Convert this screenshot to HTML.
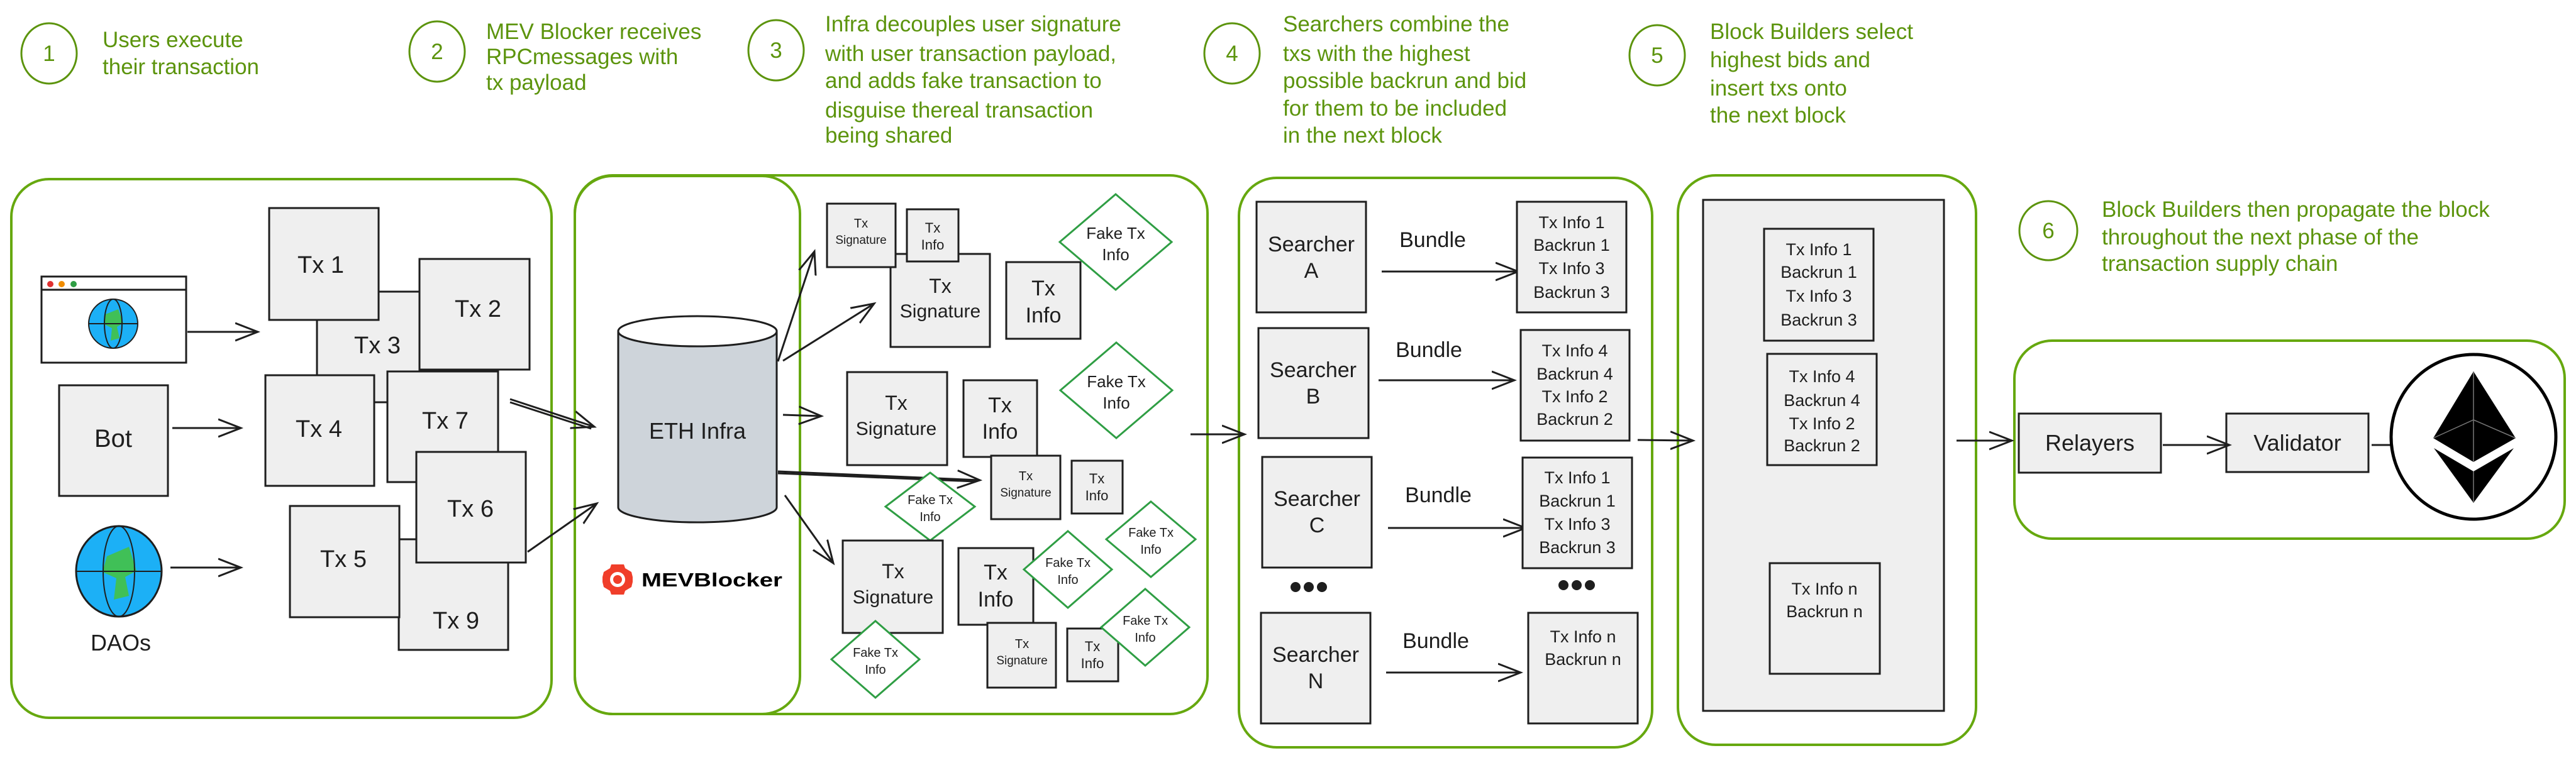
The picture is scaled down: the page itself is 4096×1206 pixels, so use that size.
<!DOCTYPE html>
<html><head><meta charset="utf-8"><style>
html,body{margin:0;padding:0;background:#fff;width:4096px;height:1206px;overflow:hidden}
svg{display:block}
text{font-family:"Liberation Sans",sans-serif}
.g{fill:#5c940d;font-size:35px}
.b{fill:#efefef;stroke:#1e1e1e;stroke-width:3}
.t{fill:#1e1e1e;text-anchor:middle}
.p{fill:none;stroke:#66a80f;stroke-width:4}
.a{fill:none;stroke:#1e1e1e;stroke-width:3}
.f{fill:#fff;stroke:#2f9e44;stroke-width:3}
.c{fill:none;stroke:#5c940d;stroke-width:3}
</style></head><body>
<svg width="4096" height="1206" viewBox="0 0 4096 1206" xmlns="http://www.w3.org/2000/svg">
<defs>
<marker id="m" markerUnits="userSpaceOnUse" markerWidth="40" markerHeight="40" refX="36" refY="20" orient="auto" viewBox="0 0 40 40">
<path d="M0,6 L36,20 L0,34" fill="none" stroke="#1e1e1e" stroke-width="3"/>
</marker>
</defs>

<!-- step headers -->
<ellipse class="c" cx="78" cy="85" rx="44" ry="48"/>
<text x="78" y="97" class="g" text-anchor="middle">1</text>
<text class="g" x="163" y="75">Users execute</text>
<text class="g" x="163" y="118">their transaction</text>

<ellipse class="c" cx="695" cy="82" rx="44" ry="48"/>
<text x="695" y="94" class="g" text-anchor="middle">2</text>
<text class="g" x="773" y="62">MEV Blocker receives</text>
<text class="g" x="773" y="102">RPCmessages with</text>
<text class="g" x="773" y="143">tx payload</text>

<ellipse class="c" cx="1234" cy="80" rx="44" ry="48"/>
<text x="1234" y="92" class="g" text-anchor="middle">3</text>
<text class="g" x="1312" y="50">Infra decouples user signature</text>
<text class="g" x="1312" y="97">with user transaction payload,</text>
<text class="g" x="1312" y="140">and adds fake transaction to</text>
<text class="g" x="1312" y="187">disguise thereal transaction</text>
<text class="g" x="1312" y="227">being shared</text>

<ellipse class="c" cx="1959" cy="85" rx="44" ry="48"/>
<text x="1959" y="97" class="g" text-anchor="middle">4</text>
<text class="g" x="2040" y="50">Searchers combine the</text>
<text class="g" x="2040" y="97">txs with the highest</text>
<text class="g" x="2040" y="140">possible backrun and bid</text>
<text class="g" x="2040" y="184">for them to be included</text>
<text class="g" x="2040" y="227">in the next block</text>

<ellipse class="c" cx="2635" cy="88" rx="44" ry="48"/>
<text x="2635" y="100" class="g" text-anchor="middle">5</text>
<text class="g" x="2719" y="62">Block Builders select</text>
<text class="g" x="2719" y="107">highest bids and</text>
<text class="g" x="2719" y="152">insert txs onto</text>
<text class="g" x="2719" y="195">the next block</text>

<ellipse class="c" cx="3257" cy="367" rx="46" ry="47"/>
<text x="3257" y="379" class="g" text-anchor="middle">6</text>
<text class="g" x="3342" y="345">Block Builders then propagate the block</text>
<text class="g" x="3342" y="389">throughout the next phase of the</text>
<text class="g" x="3342" y="431">transaction supply chain</text>

<!-- panels -->
<rect class="p" x="18" y="285" width="859" height="857" rx="60"/>
<rect class="p" x="914" y="279" width="1006" height="857" rx="60"/>
<rect class="p" x="914" y="280" width="358" height="856" rx="60"/>
<rect class="p" x="1970" y="283" width="657" height="906" rx="60"/>
<rect class="p" x="2668" y="279" width="474" height="906" rx="60"/>
<rect class="p" x="3203" y="542" width="875" height="315" rx="60"/>

<!-- panel 1 -->
<rect x="66" y="440" width="230" height="137" fill="#fff" stroke="#1e1e1e" stroke-width="3"/>
<line x1="66" y1="461" x2="296" y2="461" stroke="#1e1e1e" stroke-width="3"/>
<circle cx="80" cy="452" r="5" fill="#e03131"/><circle cx="98" cy="452" r="5" fill="#f08c00"/><circle cx="117" cy="452" r="5" fill="#2f9e44"/>
<ellipse cx="180" cy="515" rx="39" ry="39" fill="#1cb0f6" stroke="#1e1e1e" stroke-width="2"/>
<path d="M168,500 l20,-8 l8,22 l-10,6 l4,18 l-14,4 l2,-20 l-12,-6z" fill="#40c057"/>
<line x1="141" y1="515" x2="219" y2="515" stroke="#1e1e1e" stroke-width="2"/>
<ellipse cx="180" cy="515" rx="14" ry="39" fill="none" stroke="#1e1e1e" stroke-width="2"/>

<rect class="b" x="94" y="613" width="173" height="176"/>
<text class="t" x="180" y="711" font-size="40">Bot</text>

<ellipse cx="189" cy="909" rx="68" ry="72" fill="#1cb0f6" stroke="#1e1e1e" stroke-width="3"/>
<path d="M170,885 l35,-15 l12,38 l-18,10 l6,30 l-24,6 l4,-34 l-22,-10z" fill="#40c057"/>
<line x1="121" y1="909" x2="257" y2="909" stroke="#1e1e1e" stroke-width="2"/>
<ellipse cx="189" cy="909" rx="25" ry="72" fill="none" stroke="#1e1e1e" stroke-width="2"/>
<text class="t" x="192" y="1035" font-size="36">DAOs</text>

<line class="a" x1="298" y1="528" x2="410" y2="528" marker-end="url(#m)"/>
<line class="a" x1="274" y1="681" x2="383" y2="681" marker-end="url(#m)"/>
<line class="a" x1="271" y1="903" x2="383" y2="903" marker-end="url(#m)"/>

<rect class="b" x="504" y="464" width="174" height="176"/><text class="t" x="600" y="562" font-size="38">Tx 3</text>
<rect class="b" x="634" y="858" width="174" height="176"/><text class="t" x="725" y="1000" font-size="38">Tx 9</text>
<rect class="b" x="616" y="591" width="176" height="176"/><text class="t" x="708" y="682" font-size="38">Tx 7</text>
<rect class="b" x="428" y="331" width="174" height="178"/><text class="t" x="510" y="434" font-size="38">Tx 1</text>
<rect class="b" x="667" y="412" width="175" height="176"/><text class="t" x="760" y="504" font-size="38">Tx 2</text>
<rect class="b" x="422" y="597" width="173" height="176"/><text class="t" x="507" y="695" font-size="38">Tx 4</text>
<rect class="b" x="461" y="805" width="174" height="177"/><text class="t" x="546" y="902" font-size="38">Tx 5</text>
<rect class="b" x="662" y="719" width="174" height="176"/><text class="t" x="748" y="822" font-size="38">Tx 6</text>

<line class="a" x1="811" y1="635" x2="945" y2="679" marker-end="url(#m)"/>
<line class="a" x1="811" y1="640" x2="940" y2="682"/>
<line class="a" x1="839" y1="878" x2="949" y2="801" marker-end="url(#m)"/>

<!-- cylinder -->
<path d="M983,527 L983,807 A126,24 0 0 0 1235,807 L1235,527 Z" fill="#ced4da" stroke="#1e1e1e" stroke-width="3"/>
<ellipse cx="1109" cy="527" rx="126" ry="24" fill="#fff" stroke="#1e1e1e" stroke-width="3"/>
<text class="t" x="1109" y="698" font-size="36">ETH Infra</text>

<g transform="translate(982,922)" fill="#f03e2a">
<polygon points="-10,-24 10,-24 12,-18 22,-12 24,-4 24,4 22,12 12,18 10,24 -10,24 -12,18 -22,12 -24,4 -24,-4 -22,-12 -12,-18"/>
<circle r="12" fill="#fff"/><circle r="7"/>
</g>
<text x="1020" y="933" font-size="31" font-weight="bold" fill="#000" textLength="224" lengthAdjust="spacingAndGlyphs">MEVBlocker</text>

<line class="a" x1="1237" y1="575" x2="1295" y2="400" marker-end="url(#m)"/>
<line class="a" x1="1245" y1="574" x2="1390" y2="483" marker-end="url(#m)"/>
<line class="a" x1="1245" y1="660" x2="1306" y2="662" marker-end="url(#m)"/>
<line class="a" x1="1237" y1="750" x2="1558" y2="764" marker-end="url(#m)"/>
<line class="a" x1="1237" y1="753" x2="1550" y2="766"/>
<line class="a" x1="1248" y1="788" x2="1325" y2="896" marker-end="url(#m)"/>

<!-- fake tx panel -->
<rect class="b" x="1416" y="404" width="158" height="148"/><text class="t" x="1495" y="466" font-size="32">Tx</text><text class="t" x="1495" y="505" font-size="30">Signature</text>
<rect class="b" x="1315" y="324" width="109" height="101"/><text class="t" x="1369" y="362" font-size="20">Tx</text><text class="t" x="1369" y="388" font-size="19">Signature</text>
<rect class="b" x="1442" y="333" width="82" height="83"/><text class="t" x="1483" y="370" font-size="22">Tx</text><text class="t" x="1483" y="397" font-size="22">Info</text>
<rect class="b" x="1600" y="417" width="118" height="122"/><text class="t" x="1659" y="470" font-size="34">Tx</text><text class="t" x="1659" y="513" font-size="34">Info</text>
<polygon class="f" points="1774,309 1863,385 1774,461 1685,385"/><text class="t" x="1774" y="380" font-size="26">Fake Tx</text><text class="t" x="1774" y="414" font-size="26">Info</text>

<rect class="b" x="1347" y="592" width="159" height="148"/><text class="t" x="1425" y="652" font-size="32">Tx</text><text class="t" x="1425" y="692" font-size="30">Signature</text>
<rect class="b" x="1532" y="605" width="117" height="122"/><text class="t" x="1590" y="656" font-size="34">Tx</text><text class="t" x="1590" y="698" font-size="34">Info</text>
<polygon class="f" points="1775,545 1864,621 1775,697 1686,621"/><text class="t" x="1775" y="616" font-size="26">Fake Tx</text><text class="t" x="1775" y="650" font-size="26">Info</text>

<rect class="b" x="1576" y="725" width="110" height="101"/><text class="t" x="1631" y="764" font-size="20">Tx</text><text class="t" x="1631" y="790" font-size="19">Signature</text>
<rect class="b" x="1704" y="733" width="81" height="84"/><text class="t" x="1744" y="769" font-size="22">Tx</text><text class="t" x="1744" y="796" font-size="22">Info</text>
<polygon class="f" points="1479,752 1550,806 1479,860 1408,806"/><text class="t" x="1479" y="802" font-size="20">Fake Tx</text><text class="t" x="1479" y="829" font-size="20">Info</text>
<polygon class="f" points="1830,798 1901,858 1830,918 1759,858"/><text class="t" x="1830" y="854" font-size="20">Fake Tx</text><text class="t" x="1830" y="881" font-size="20">Info</text>

<rect class="b" x="1340" y="860" width="159" height="147"/><text class="t" x="1420" y="920" font-size="32">Tx</text><text class="t" x="1420" y="960" font-size="30">Signature</text>
<rect class="b" x="1524" y="872" width="119" height="122"/><text class="t" x="1583" y="922" font-size="34">Tx</text><text class="t" x="1583" y="965" font-size="34">Info</text>
<polygon class="f" points="1698,845 1768,906 1698,967 1628,906"/><text class="t" x="1698" y="902" font-size="20">Fake Tx</text><text class="t" x="1698" y="929" font-size="20">Info</text>
<rect class="b" x="1570" y="991" width="109" height="103"/><text class="t" x="1625" y="1031" font-size="20">Tx</text><text class="t" x="1625" y="1057" font-size="19">Signature</text>
<rect class="b" x="1697" y="1000" width="81" height="84"/><text class="t" x="1737" y="1036" font-size="22">Tx</text><text class="t" x="1737" y="1063" font-size="22">Info</text>
<polygon class="f" points="1821,937 1891,998 1821,1059 1751,998"/><text class="t" x="1821" y="994" font-size="20">Fake Tx</text><text class="t" x="1821" y="1021" font-size="20">Info</text>
<polygon class="f" points="1392,988 1462,1049 1392,1110 1322,1049"/><text class="t" x="1392" y="1045" font-size="20">Fake Tx</text><text class="t" x="1392" y="1072" font-size="20">Info</text>

<line class="a" x1="1893" y1="691" x2="1979" y2="691" marker-end="url(#m)"/>

<!-- searchers -->
<rect class="b" x="1998" y="321" width="174" height="176"/><text class="t" x="2085" y="400" font-size="34">Searcher</text><text class="t" x="2085" y="442" font-size="34">A</text>
<rect class="b" x="2001" y="522" width="175" height="175"/><text class="t" x="2088" y="600" font-size="34">Searcher</text><text class="t" x="2088" y="642" font-size="34">B</text>
<rect class="b" x="2007" y="727" width="174" height="176"/><text class="t" x="2094" y="805" font-size="34">Searcher</text><text class="t" x="2094" y="847" font-size="34">C</text>
<rect class="b" x="2005" y="975" width="174" height="176"/><text class="t" x="2092" y="1053" font-size="34">Searcher</text><text class="t" x="2092" y="1095" font-size="34">N</text>
<g fill="#1e1e1e"><circle cx="2060" cy="934" r="8"/><circle cx="2081" cy="934" r="8"/><circle cx="2102" cy="934" r="8"/>
<circle cx="2486" cy="931" r="8"/><circle cx="2507" cy="931" r="8"/><circle cx="2528" cy="931" r="8"/>
<circle cx="2866" cy="820" r="8"/><circle cx="2888" cy="820" r="8"/><circle cx="2910" cy="820" r="8"/></g>

<text class="t" x="2278" y="393" font-size="34">Bundle</text>
<text class="t" x="2272" y="568" font-size="34">Bundle</text>
<text class="t" x="2287" y="799" font-size="34">Bundle</text>
<text class="t" x="2283" y="1031" font-size="34">Bundle</text>
<line class="a" x1="2197" y1="432" x2="2414" y2="432" marker-end="url(#m)"/>
<line class="a" x1="2192" y1="605" x2="2408" y2="605" marker-end="url(#m)"/>
<line class="a" x1="2207" y1="840" x2="2426" y2="840" marker-end="url(#m)"/>
<line class="a" x1="2204" y1="1070" x2="2418" y2="1070" marker-end="url(#m)"/>

<g font-size="27">
<rect class="b" x="2412" y="321" width="174" height="176"/>
<text class="t" x="2499" y="363">Tx Info 1</text><text class="t" x="2499" y="399">Backrun 1</text><text class="t" x="2499" y="436">Tx Info 3</text><text class="t" x="2499" y="474">Backrun 3</text>
<rect class="b" x="2418" y="525" width="173" height="176"/>
<text class="t" x="2504" y="567">Tx Info 4</text><text class="t" x="2504" y="604">Backrun 4</text><text class="t" x="2504" y="640">Tx Info 2</text><text class="t" x="2504" y="676">Backrun 2</text>
<rect class="b" x="2421" y="728" width="174" height="176"/>
<text class="t" x="2508" y="769">Tx Info 1</text><text class="t" x="2508" y="806">Backrun 1</text><text class="t" x="2508" y="843">Tx Info 3</text><text class="t" x="2508" y="880">Backrun 3</text>
<rect class="b" x="2430" y="975" width="174" height="176"/>
<text class="t" x="2517" y="1022">Tx Info n</text><text class="t" x="2517" y="1058">Backrun n</text>
</g>

<line class="a" x1="2604" y1="700" x2="2692" y2="701" marker-end="url(#m)"/>

<!-- block builders -->
<rect x="2708" y="318" width="383" height="813" fill="#efefef" stroke="#1e1e1e" stroke-width="3"/>
<g font-size="27">
<rect class="b" x="2805" y="364" width="174" height="178"/>
<text class="t" x="2892" y="406">Tx Info 1</text><text class="t" x="2892" y="442">Backrun 1</text><text class="t" x="2892" y="480">Tx Info 3</text><text class="t" x="2892" y="518">Backrun 3</text>
<rect class="b" x="2810" y="563" width="174" height="177"/>
<text class="t" x="2897" y="608">Tx Info 4</text><text class="t" x="2897" y="646">Backrun 4</text><text class="t" x="2897" y="683">Tx Info 2</text><text class="t" x="2897" y="718">Backrun 2</text>
<rect class="b" x="2814" y="896" width="175" height="176"/>
<text class="t" x="2901" y="946">Tx Info n</text><text class="t" x="2901" y="982">Backrun n</text>
</g>

<line class="a" x1="3111" y1="701" x2="3199" y2="701" marker-end="url(#m)"/>

<rect class="b" x="3210" y="658" width="226" height="94"/><text class="t" x="3323" y="717" font-size="36">Relayers</text>
<rect class="b" x="3540" y="658" width="226" height="93"/><text class="t" x="3653" y="717" font-size="36">Validator</text>
<line class="a" x1="3439" y1="708" x2="3545" y2="708" marker-end="url(#m)"/>
<line class="a" x1="3771" y1="708" x2="3849" y2="708" marker-end="url(#m)"/>

<circle cx="3933" cy="695" r="131" fill="#fff" stroke="#000" stroke-width="5"/>
<polygon points="3933,591 4000,697 3933,735 3869,697" fill="#000"/>
<polyline points="3869,697 3933,668 4000,697" fill="none" stroke="#777" stroke-width="1.5"/>
<line x1="3933" y1="591" x2="3933" y2="735" stroke="#777" stroke-width="1.5"/>
<polygon points="3870,713 3933,750 3997,713 3933,800" fill="#000"/>
<line x1="3933" y1="750" x2="3933" y2="800" stroke="#777" stroke-width="1.5"/>
</svg>
</body></html>
